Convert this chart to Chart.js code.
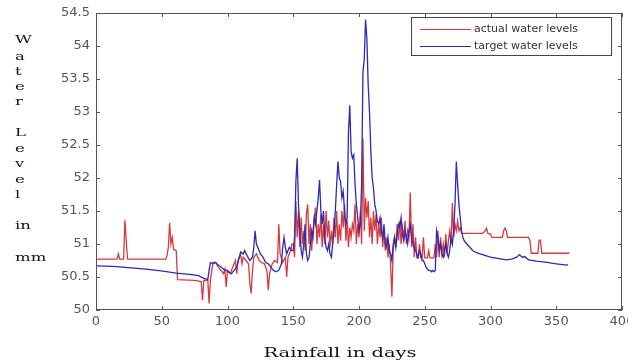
<!DOCTYPE html>
<html>
<head>
<meta charset="utf-8">
<script src="https://cdn.jsdelivr.net/npm/chart.js@4.4.1/dist/chart.umd.min.js"></script>
<style>
  html, body { margin: 0; padding: 0; background: #fff; }
  canvas { display: block; }
</style>
</head>
<body>
<canvas id="chart" width="628" height="362"></canvas>
<script>
// actual water levels (red) as (day, level) breakpoints
const actualDays = [
  0, 16, 17, 18, 21, 22, 23, 24, 53, 54,
  55, 56, 57, 58, 59, 61, 62, 75, 80, 81,
  82, 85, 86, 87, 88, 89, 91, 93, 95, 97,
  98, 99, 100, 102, 104, 106, 107, 108, 110, 111,
  112, 114, 116, 117, 118, 119, 120, 122, 124, 126,
  128, 130, 131, 132, 134, 136, 138, 139, 140, 142,
  144, 145, 146, 148, 149,
  150, 151, 152, 153, 154, 155, 156, 157, 158, 159,
  160, 161, 162, 163, 164, 165, 166, 167, 168, 169,
  170, 171, 172, 173, 174, 175, 176, 177, 178, 179,
  180, 181, 182, 183, 184, 185, 186, 187, 188, 189,
  190, 191, 192, 193, 194, 195, 196, 197, 198, 199,
  200, 201, 202, 203, 204, 205, 206, 207, 208, 209,
  210, 211, 212, 213, 214, 215, 216, 217, 218, 219,
  220, 221, 222, 223, 224, 225, 226, 227, 228, 229,
  230, 231, 232, 233, 234, 235, 236, 237, 238, 239,
  240, 241, 242, 243, 244, 245, 246, 247, 248, 249,
  250, 251, 252, 253, 254, 255, 256, 257, 258, 259,
  260, 261, 262, 263, 264, 265, 266, 267, 268, 269,
  270, 271, 272, 273, 274, 275, 276, 277, 278,
  294, 296, 297, 298, 300, 301, 309, 310, 311, 312,
  313, 329, 330, 331, 336, 337, 338, 339, 360
]
const actualLevels = [
  50.77, 50.77, 50.85, 50.77, 50.77, 51.36, 51.05, 50.77, 50.77, 50.82,
  50.95, 51.32, 51.0, 51.1, 50.92, 50.9, 50.46, 50.45, 50.43, 50.15,
  50.45, 50.45, 50.1, 50.45, 50.6, 50.72, 50.72, 50.65, 50.6, 50.55,
  50.62, 50.35, 50.6, 50.55, 50.65, 50.75, 50.55, 50.75, 50.85, 50.7,
  50.8, 50.75, 50.7, 50.4, 50.25, 50.6, 50.8, 50.85, 50.75, 50.72,
  50.7, 50.6, 50.3, 50.55, 50.7, 50.75, 50.72, 51.3, 50.85, 50.72,
  50.8, 50.5, 50.8, 50.9, 51.0,
  51.0, 50.8, 51.65, 51.1, 51.5, 50.95, 51.4, 51.0, 51.2, 50.9,
  51.45, 51.6, 51.0, 51.3, 50.9, 51.2, 51.4, 51.55, 51.0, 51.3,
  51.1, 51.45, 50.95, 51.3, 51.0, 51.5, 51.1, 51.35, 50.95, 51.2,
  51.0, 51.4, 51.1, 51.5, 51.0, 51.3, 51.05, 51.5, 51.25, 51.6,
  51.05, 51.35, 50.95, 51.25, 51.1, 51.3, 51.2, 51.6, 51.0, 51.3,
  51.1, 51.5, 51.0, 52.6, 51.2, 51.7, 51.4, 51.65, 51.1, 51.4,
  51.0, 51.5, 51.2, 51.45, 51.0, 51.3, 51.1, 51.4, 50.95, 51.2,
  50.9, 51.1, 50.8, 51.0, 50.7, 50.2, 50.9, 51.1, 50.95, 51.3,
  51.05, 51.35, 51.0, 51.25, 51.1, 51.35, 51.0, 51.2, 51.1, 51.78,
  50.95, 51.3, 50.8, 51.1, 50.79, 50.79, 51.0, 50.79, 50.79, 51.1,
  50.79, 50.79, 50.79, 50.9, 50.79, 50.79, 50.79, 50.79, 51.0, 50.8,
  51.2, 50.8, 51.1, 50.85, 51.0, 50.8, 51.15, 50.85, 51.05, 51.2,
  51.0, 51.62, 51.1, 51.3, 51.2, 51.35, 51.2, 51.25, 51.16,
  51.16, 51.2, 51.24, 51.16, 51.15, 51.1, 51.1, 51.2, 51.24, 51.2,
  51.1, 51.1, 51.05, 50.86, 50.86, 51.06, 51.06, 50.86, 50.86
]

// target water levels (blue)
const targetDays = [
  0, 13, 38, 51, 61, 71, 78, 82, 85, 86,
  87, 89, 91, 93, 95, 97, 99, 101, 103, 105,
  107, 109, 110, 112, 113, 115, 117, 119, 120, 121,
  122, 123, 125, 127, 129, 131, 133, 135, 137, 139,
  141, 142, 143, 144, 145, 147, 149,
  150, 151, 152, 153, 154, 155, 156, 157, 158, 159,
  160, 161, 162, 163, 164, 165, 166, 167, 168, 169,
  170, 171, 172, 173, 174, 175, 176, 177, 178, 179,
  180, 181, 182, 183, 184, 185, 186, 187, 188, 189,
  190, 191, 192, 193, 194, 195, 196, 197, 198, 199,
  200, 201, 202, 203, 204, 205, 206, 207, 208, 209,
  210, 211, 212, 213, 214, 215, 216, 217, 218, 219,
  220, 221, 222, 223, 224, 225, 226, 227, 228, 229,
  230, 231, 232, 233, 234, 235, 236, 237, 238, 239,
  240, 241, 242, 243, 244, 245, 246, 247, 248, 249,
  250, 251, 252, 253, 254, 255, 256, 257, 258, 259,
  260, 261, 262, 263, 264, 265, 266, 267, 268, 269,
  270, 271, 272, 273, 274, 275, 276, 277, 278, 279,
  280, 282, 287, 292, 300, 312, 316, 320, 322, 324,
  326, 329, 335, 343, 350, 358, 359
]
const targetLevels = [
  50.67, 50.66, 50.62, 50.59, 50.56, 50.54, 50.52, 50.48, 50.46, 50.6,
  50.72, 50.7, 50.72, 50.68, 50.65, 50.62, 50.6, 50.58, 50.55, 50.6,
  50.65, 50.8, 50.88, 50.85, 50.9, 50.82, 50.75, 50.8, 50.95, 51.2,
  51.0, 50.95, 50.85, 50.8, 50.72, 50.7, 50.65, 50.6, 50.58, 50.6,
  50.7, 50.95, 51.1, 50.95, 50.85, 50.95, 50.9,
  50.9, 51.1, 51.95, 52.3, 51.6, 51.2, 50.9, 50.8, 51.0, 51.3,
  50.85, 50.75, 50.8, 51.0, 51.2, 51.1, 51.4, 51.3, 51.5, 51.7,
  51.97, 51.5, 51.3, 51.5, 51.1, 50.95, 50.9, 51.0, 50.85, 50.8,
  51.0, 51.2, 51.5, 51.9, 52.25, 52.0, 51.95, 51.7, 51.8, 51.5,
  51.3, 51.4, 52.7, 53.1, 52.4, 52.3, 52.35, 51.9, 51.6, 51.4,
  51.2, 51.3, 51.9, 53.6, 53.8, 54.4, 54.1, 53.4, 53.0, 52.4,
  52.0, 51.85, 51.6, 51.5, 51.35, 51.3, 51.4, 51.2, 51.1, 51.3,
  51.0, 50.95, 51.1, 50.9, 50.85, 50.75, 51.0, 51.1, 50.95, 51.15,
  51.3, 51.25, 51.4, 51.15, 51.05, 51.2, 51.1, 51.0, 51.2, 51.3,
  51.1, 51.0, 50.95, 50.9, 50.85, 50.8, 50.9, 50.85, 50.75, 50.75,
  50.7, 50.65, 50.62, 50.6, 50.6, 50.58, 50.6, 50.58, 50.6, 51.2,
  51.1, 50.9, 51.0, 50.85, 50.8, 50.9, 51.0, 50.85, 50.8, 50.9,
  51.1, 51.0, 51.2, 51.6, 52.25, 51.9, 51.6, 51.4, 51.2, 51.1,
  51.05, 51.0, 50.89, 50.85, 50.8, 50.76, 50.77, 50.8, 50.84, 50.8,
  50.81, 50.76, 50.74, 50.72, 50.7, 50.68, 50.69
]

const xTicks = [0, 50, 100, 150, 200, 250, 300, 350, 400]
const yTicks = [50, 50.5, 51, 51.5, 52, 52.5, 53, 53.5, 54, 54.5]
const seriesNames = ['actual water levels', 'target water levels']
const xTitle = 'Rainfall in days'
const yTitleParts = ['W', 'a', 't', 'e', 'r', 'L', 'e', 'v', 'e', 'l', 'in', 'mm']

function toPoints(days, levels) {
    return days.map((d, i) => ({ x: d, y: levels[i] }))
}

const red = '#d63a3e'
const blue = '#2b2bb6'

// box round the plot area with matlab style inward ticks
const frame = {
    id: 'frame',
    afterDatasetsDraw(chart) {
        const { ctx, chartArea: a, scales } = chart
        ctx.save()
        ctx.strokeStyle = '#555'
        ctx.lineWidth = 1
        ctx.strokeRect(a.left + 0.5, a.top + 0.5, a.right - a.left - 1, a.bottom - a.top - 1)
        ctx.beginPath()
        xTicks.forEach(t => {
            const px = Math.round(scales.x.getPixelForValue(t)) + 0.5
            ctx.moveTo(px, a.bottom); ctx.lineTo(px, a.bottom - 4)
            ctx.moveTo(px, a.top); ctx.lineTo(px, a.top + 4)
        })
        yTicks.forEach(t => {
            const py = Math.round(scales.y.getPixelForValue(t)) + 0.5
            ctx.moveTo(a.left, py); ctx.lineTo(a.left + 4, py)
            ctx.moveTo(a.right, py); ctx.lineTo(a.right - 4, py)
        })
        ctx.stroke()

        // legend
        const lx = 411, ly = 17, lw = 200, lh = 38
        ctx.fillStyle = '#fff'
        ctx.fillRect(lx, ly, lw, lh)
        ctx.strokeStyle = '#444'
        ctx.strokeRect(lx + 0.5, ly + 0.5, lw, lh)
        ctx.font = '11px "DejaVu Sans"'
        ctx.textBaseline = 'middle'
        ctx.textAlign = 'left'
        ;[red, blue].forEach((c, i) => {
            const y = ly + 12 + i * 17
            ctx.strokeStyle = c
            ctx.beginPath()
            ctx.moveTo(lx + 9, y + 0.5); ctx.lineTo(lx + 60, y + 0.5)
            ctx.stroke()
            ctx.fillStyle = '#333'
            ctx.fillText(seriesNames[i], lx + 63, y)
        })
        ctx.restore()
    },
    afterDraw(chart) {
        const ctx = chart.ctx
        ctx.save()
        ctx.fillStyle = '#111'
        ctx.font = '13px "DejaVu Serif"'
        ctx.textAlign = 'center'
        ctx.textBaseline = 'alphabetic'
        const w = ctx.measureText(xTitle).width
        ctx.translate(340, 357)
        ctx.scale(153 / w, 1)
        ctx.fillText(xTitle, 0, 0)
        ctx.restore()

        const rows = [40, 57, 72, 87, 102, 133, 149, 164, 180, 195, 226, 258]
        ctx.save()
        ctx.fillStyle = '#111'
        ctx.font = '11px "DejaVu Serif"'
        ctx.textAlign = 'left'
        ctx.textBaseline = 'middle'
        yTitleParts.forEach((s, i) => {
            ctx.save()
            ctx.translate(15, rows[i])
            ctx.scale(1.5, 1)
            ctx.fillText(s, 0, 0)
            ctx.restore()
        })
        ctx.restore()
    }
}

new Chart(document.getElementById('chart'), {
    type: 'line',
    data: {
        datasets: [
            {
                label: seriesNames[0],
                data: toPoints(actualDays, actualLevels),
                borderColor: red,
                borderWidth: 1.3,
                pointRadius: 0,
                tension: 0,
                order: 1
            },
            {
                label: seriesNames[1],
                data: toPoints(targetDays, targetLevels),
                borderColor: blue,
                borderWidth: 1.3,
                pointRadius: 0,
                tension: 0,
                order: 0
            }
        ]
    },
    options: {
        responsive: false,
        animation: false,
        layout: { padding: { top: 13, right: 6, left: 0, bottom: 0 } },
        plugins: {
            legend: { display: false },
            tooltip: { enabled: false }
        },
        scales: {
            x: {
                type: 'linear',
                min: 0,
                max: 400,
                afterBuildTicks: s => { s.ticks = xTicks.map(v => ({ value: v })) },
                ticks: {
                    color: '#555',
                    font: { family: 'DejaVu Sans', size: 13 },
                    padding: 4,
                    maxRotation: 0,
                    autoSkip: false,
                    callback: v => String(v)
                },
                grid: { display: false, drawTicks: false },
                border: { display: false },
                afterFit: s => { s.height = 52; s.paddingLeft = 0; s.paddingRight = 0 }
            },
            y: {
                type: 'linear',
                min: 50,
                max: 54.5,
                afterBuildTicks: s => { s.ticks = yTicks.map(v => ({ value: v })) },
                ticks: {
                    color: '#555',
                    font: { family: 'DejaVu Sans', size: 13 },
                    padding: 6,
                    autoSkip: false,
                    callback: v => String(v)
                },
                grid: { display: false, drawTicks: false },
                border: { display: false },
                afterFit: s => { s.width = 96; s.paddingTop = 0; s.paddingBottom = 0 }
            }
        }
    },
    plugins: [frame]
})
</script>
</body>
</html>
